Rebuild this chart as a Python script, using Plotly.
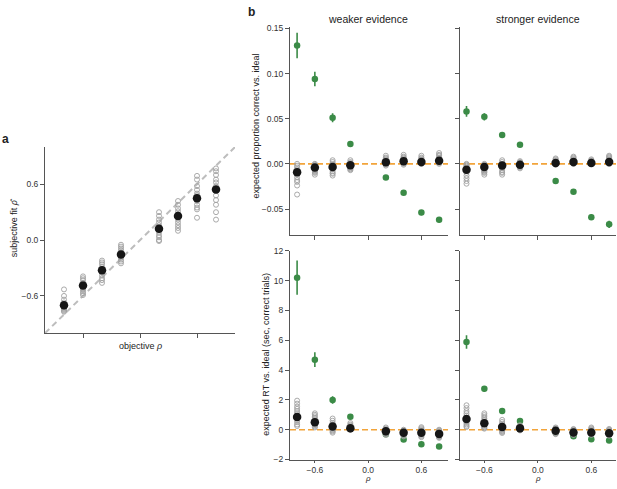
import plotly.graph_objects as go

# ---------------- data ----------------
rho = [-0.8, -0.6, -0.4, -0.2, 0.2, 0.4, 0.6, 0.8]

# panel a: subjective fit vs objective rho
a_mean = [-0.70, -0.487, -0.323, -0.155, 0.123, 0.26, 0.449, 0.544]
a_subj = [
    [-0.53, -0.60, -0.64, -0.67, -0.70, -0.72, -0.73, -0.74, -0.75, -0.76, -0.77, -0.71],
    [-0.39, -0.41, -0.43, -0.46, -0.48, -0.50, -0.52, -0.53, -0.55, -0.57, -0.59, -0.49],
    [-0.22, -0.24, -0.26, -0.29, -0.31, -0.33, -0.35, -0.38, -0.41, -0.43, -0.46, -0.34],
    [-0.05, -0.07, -0.09, -0.11, -0.13, -0.15, -0.17, -0.19, -0.21, -0.23, -0.25, -0.16],
    [0.30, 0.26, 0.22, 0.19, 0.16, 0.13, 0.11, 0.08, 0.05, 0.03, 0.00, -0.01],
    [0.42, 0.38, 0.34, 0.31, 0.28, 0.25, 0.22, 0.19, 0.16, 0.13, 0.10, 0.27],
    [0.69, 0.65, 0.58, 0.54, 0.50, 0.46, 0.42, 0.38, 0.35, 0.33, 0.24, 0.48],
    [0.77, 0.74, 0.70, 0.65, 0.62, 0.58, 0.54, 0.48, 0.43, 0.38, 0.30, 0.22],
]

# panel b, top-left: proportion correct, weaker evidence
pc_weak_mean = [-0.0094, -0.004, -0.0036, -0.0015, 0.0018, 0.003, 0.002, 0.0033]
pc_weak_green = [0.131, 0.094, 0.051, 0.022, -0.015, -0.032, -0.054, -0.062]
pc_weak_green_err = [0.014, 0.008, 0.005, 0.002, 0.002, 0.002, 0.003, 0.003]
pc_weak_subj = [
    [0.000, -0.002, -0.004, -0.006, -0.008, -0.010, -0.012, -0.015, -0.018, -0.020, -0.024, -0.034],
    [0.000, -0.001, -0.002, -0.003, -0.004, -0.005, -0.006, -0.007, -0.008, -0.009, -0.010, -0.012],
    [0.004, 0.002, 0.000, -0.001, -0.003, -0.004, -0.005, -0.006, -0.008, -0.010, -0.011, -0.013],
    [0.004, 0.002, 0.001, 0.000, -0.001, -0.002, -0.003, -0.004, -0.005, -0.006, -0.007, -0.002],
    [0.009, 0.007, 0.006, 0.005, 0.004, 0.003, 0.002, 0.001, 0.000, -0.001, -0.002, 0.002],
    [0.010, 0.008, 0.007, 0.006, 0.005, 0.004, 0.003, 0.002, 0.001, 0.000, -0.001, 0.003],
    [0.009, 0.007, 0.006, 0.005, 0.004, 0.003, 0.002, 0.001, 0.000, 0.000, 0.001, 0.002],
    [0.012, 0.010, 0.009, 0.007, 0.006, 0.005, 0.004, 0.003, 0.002, 0.001, 0.000, 0.003],
]

# panel b, top-right: proportion correct, stronger evidence
pc_strong_mean = [-0.0065, -0.0036, -0.0018, -0.001, 0.001, 0.002, 0.001, 0.002]
pc_strong_green = [0.058, 0.052, 0.032, 0.021, -0.019, -0.031, -0.059, -0.067]
pc_strong_green_err = [0.006, 0.004, 0.002, 0.002, 0.002, 0.002, 0.003, 0.004]
pc_strong_subj = [
    [0.000, -0.001, -0.002, -0.003, -0.004, -0.006, -0.008, -0.010, -0.013, -0.016, -0.019, -0.022],
    [0.000, -0.001, -0.002, -0.003, -0.004, -0.005, -0.006, -0.007, -0.008, -0.009, -0.010, -0.012],
    [0.004, 0.002, 0.000, -0.001, -0.002, -0.003, -0.004, -0.005, -0.007, -0.009, -0.010, -0.012],
    [0.003, 0.002, 0.001, 0.000, -0.001, -0.001, -0.002, -0.003, -0.003, -0.004, -0.005, -0.002],
    [0.006, 0.005, 0.004, 0.003, 0.002, 0.002, 0.001, 0.001, 0.000, 0.000, -0.001, 0.001],
    [0.008, 0.007, 0.006, 0.005, 0.004, 0.003, 0.002, 0.002, 0.001, 0.000, 0.000, 0.001],
    [0.005, 0.004, 0.003, 0.003, 0.002, 0.002, 0.001, 0.001, 0.000, 0.000, 0.001, 0.002],
    [0.009, 0.008, 0.007, 0.006, 0.005, 0.004, 0.003, 0.002, 0.001, 0.000, 0.000, 0.002],
]

# panel b, bottom-left: RT, weaker evidence
rt_weak_mean = [0.85, 0.50, 0.22, 0.09, -0.11, -0.20, -0.20, -0.28]
rt_weak_green = [10.2, 4.7, 2.0, 0.87, -0.30, -0.66, -0.98, -1.13]
rt_weak_green_err = [1.15, 0.5, 0.25, 0.1, 0.05, 0.05, 0.05, 0.08]
rt_weak_subj = [
    [1.95, 1.75, 1.55, 1.40, 1.25, 1.10, 0.95, 0.80, 0.65, 0.50, 0.35, 0.25],
    [1.10, 1.00, 0.90, 0.80, 0.70, 0.60, 0.50, 0.40, 0.35, 0.30, 0.22, 0.15],
    [0.75, 0.60, 0.45, 0.35, 0.25, 0.18, 0.10, 0.05, 0.00, -0.05, -0.12, -0.20],
    [0.45, 0.35, 0.28, 0.22, 0.16, 0.12, 0.08, 0.05, 0.03, 0.01, 0.00, 0.10],
    [0.15, 0.08, 0.02, -0.02, -0.06, -0.10, -0.14, -0.18, -0.22, -0.26, -0.30, -0.35],
    [0.00, -0.05, -0.08, -0.12, -0.15, -0.18, -0.22, -0.26, -0.30, -0.35, -0.40, -0.45],
    [0.17, 0.10, 0.03, -0.03, -0.08, -0.13, -0.18, -0.23, -0.30, -0.36, -0.43, -0.50],
    [0.00, -0.05, -0.10, -0.15, -0.20, -0.25, -0.30, -0.35, -0.40, -0.45, -0.50, -0.55],
]

# panel b, bottom-right: RT, stronger evidence
rt_strong_mean = [0.72, 0.44, 0.18, 0.09, -0.07, -0.18, -0.18, -0.24]
rt_strong_green = [5.88, 2.74, 1.25, 0.59, -0.18, -0.44, -0.64, -0.72]
rt_strong_green_err = [0.45, 0.2, 0.1, 0.05, 0.05, 0.05, 0.05, 0.05]
rt_strong_subj = [
    [1.64, 1.45, 1.25, 1.10, 0.95, 0.80, 0.68, 0.55, 0.45, 0.35, 0.25, 0.18],
    [1.10, 0.98, 0.86, 0.75, 0.65, 0.55, 0.45, 0.35, 0.25, 0.18, 0.12, 0.07],
    [0.66, 0.52, 0.40, 0.30, 0.22, 0.15, 0.08, 0.02, -0.04, -0.10, -0.16, -0.22],
    [0.30, 0.24, 0.18, 0.14, 0.10, 0.07, 0.04, 0.02, 0.00, -0.02, -0.05, 0.12],
    [0.15, 0.10, 0.05, 0.00, -0.04, -0.08, -0.12, -0.16, -0.20, -0.24, -0.27, -0.30],
    [0.05, 0.00, -0.04, -0.08, -0.12, -0.15, -0.18, -0.21, -0.25, -0.28, -0.32, -0.35],
    [0.15, 0.09, 0.03, -0.02, -0.06, -0.10, -0.14, -0.18, -0.22, -0.26, -0.30, -0.35],
    [0.05, 0.00, -0.05, -0.09, -0.13, -0.17, -0.21, -0.25, -0.29, -0.33, -0.37, -0.40],
]

pc_ticks = [-0.05, 0.0, 0.05, 0.10, 0.15]
pc_ticklabels = ["\u22120.05", "0.00", "0.05", "0.10", "0.15"]
rt_ticks = [-2, 0, 2, 4, 6, 8, 10, 12]
rt_ticklabels = ["\u22122", "0", "2", "4", "6", "8", "10", "12"]
rho_ticks = [-0.6, 0.0, 0.6]
rho_ticklabels = ["\u22120.6", "0.0", "0.6"]

# ---------------- styling ----------------
W, H = 617, 489
GREEN = "#3b8b47"
GREY = "#a0a0a0"
ORANGE = "#f2a43a"
AXC = "#555555"
FONT = "Liberation Sans, Arial, sans-serif"

def px_x(a, b):
    return [a / W, b / W]

def px_y(top, bottom):
    return [1 - bottom / H, 1 - top / H]

fig = go.Figure()

def add_subjects(subj, xa, ya):
    xs, ys = [], []
    for r, vals in zip(rho, subj):
        for v in vals:
            xs.append(r)
            ys.append(v)
    fig.add_trace(go.Scatter(
        x=xs, y=ys, mode="markers", xaxis=xa, yaxis=ya,
        marker=dict(size=5, color="rgba(0,0,0,0)", line=dict(color=GREY, width=0.9)),
        showlegend=False, hoverinfo="skip", cliponaxis=False))

def add_green(vals, err, xa, ya):
    fig.add_trace(go.Scatter(
        x=rho, y=vals, mode="markers", xaxis=xa, yaxis=ya,
        marker=dict(size=6.5, color=GREEN),
        error_y=dict(type="data", array=err, color=GREEN, thickness=1.6, width=0),
        showlegend=False, cliponaxis=False))

def add_mean(vals, xa, ya):
    fig.add_trace(go.Scatter(
        x=rho, y=vals, mode="markers", xaxis=xa, yaxis=ya,
        marker=dict(size=8.5, color="#161616"),
        showlegend=False, cliponaxis=False))

# panel a
add_subjects(a_subj, "x", "y")
add_mean(a_mean, "x", "y")

# panel b
panels = [
    ("x2", "y2", pc_weak_subj, pc_weak_green, pc_weak_green_err, pc_weak_mean),
    ("x3", "y3", pc_strong_subj, pc_strong_green, pc_strong_green_err, pc_strong_mean),
    ("x4", "y4", rt_weak_subj, rt_weak_green, rt_weak_green_err, rt_weak_mean),
    ("x5", "y5", rt_strong_subj, rt_strong_green, rt_strong_green_err, rt_strong_mean),
]
for xa, ya, subj, g, ge, m in panels:
    add_green(g, ge, xa, ya)
    add_subjects(subj, xa, ya)
    add_mean(m, xa, ya)

# reference lines
fig.add_shape(type="line", xref="x", yref="y", x0=-1, y0=-1, x1=1, y1=1,
              line=dict(color="#bdbdbd", width=2, dash="6px,4px"), layer="below")
for xa, ya in [("x2", "y2"), ("x3", "y3"), ("x4", "y4"), ("x5", "y5")]:
    fig.add_shape(type="line", xref=xa + " domain", yref=ya, x0=0, x1=1, y0=0, y1=0,
                  line=dict(color=ORANGE, width=1.6, dash="6px,3px"), layer="below")

axis_common = dict(showline=True, linecolor=AXC, linewidth=1, ticks="outside",
                   ticklen=4, tickcolor=AXC, tickwidth=1, showgrid=False, zeroline=False,
                   tickfont=dict(size=8.5, color="#333333", family=FONT), mirror=False)
xbottom_common = dict(axis_common, ticklen=2)

fig.update_layout(
    width=W, height=H, margin=dict(l=0, r=0, t=0, b=0),
    paper_bgcolor="white", plot_bgcolor="white",
    font=dict(family=FONT, size=9, color="#333333"),
    xaxis=dict(domain=px_x(45, 235), range=[-1, 1], tickvals=rho_ticks,
               showticklabels=False, anchor="y", **axis_common),
    yaxis=dict(domain=px_y(145, 335), range=[-1, 1], tickvals=rho_ticks,
               ticktext=rho_ticklabels, anchor="x", **axis_common),
    xaxis2=dict(domain=px_x(290, 448), range=[-0.88, 0.90], tickvals=rho_ticks,
                showticklabels=False, anchor="y2", **axis_common),
    yaxis2=dict(domain=px_y(22, 235), range=[-0.079, 0.152], tickvals=pc_ticks,
                ticktext=pc_ticklabels, anchor="x2", **axis_common),
    xaxis3=dict(domain=px_x(460, 616), range=[-0.873, 0.877], tickvals=rho_ticks,
                showticklabels=False, anchor="y3", **axis_common),
    yaxis3=dict(domain=px_y(22, 235), range=[-0.079, 0.152], tickvals=pc_ticks,
                showticklabels=False, anchor="x3", **axis_common),
    xaxis4=dict(domain=px_x(290, 448), range=[-0.88, 0.90], tickvals=rho_ticks,
                ticktext=rho_ticklabels, anchor="y4", **xbottom_common),
    yaxis4=dict(domain=px_y(251, 464), range=[-2, 12], tickvals=rt_ticks,
                ticktext=rt_ticklabels, anchor="x4", **axis_common),
    xaxis5=dict(domain=px_x(460, 616), range=[-0.873, 0.877], tickvals=rho_ticks,
                ticktext=rho_ticklabels, anchor="y5", **xbottom_common),
    yaxis5=dict(domain=px_y(251, 464), range=[-2, 12], tickvals=rt_ticks,
                showticklabels=False, anchor="x5", **axis_common),
)

def ann(text, x, y, size=9, angle=0, bold=False, xanchor="center", yanchor="middle"):
    fig.add_annotation(text=("<b>%s</b>" % text) if bold else text,
                       x=x / W, y=1 - y / H, xref="paper", yref="paper",
                       showarrow=False, textangle=angle, xanchor=xanchor, yanchor=yanchor,
                       borderpad=0,
                       font=dict(size=size, color="#222222", family=FONT))

ann("a", 1, 137, size=12, bold=True, xanchor="left")
ann("b", 247, 7, size=12, bold=True, xanchor="left")
ann("weaker evidence", 368, 14, size=10.5)
ann("stronger evidence", 538, 14, size=10.5)
ann("subjective fit <i>\u03c1\u0302</i>", 14, 228, angle=-90)
ann("objective <i>\u03c1</i>", 140, 348)
ann("expected proportion correct vs. ideal", 256, 124, angle=-90)
ann("expected RT vs. ideal (sec, correct trials)", 266, 357, angle=-90)
ann("<i>\u03c1</i>", 368, 489, size=8, yanchor="bottom")
ann("<i>\u03c1</i>", 538, 489, size=8, yanchor="bottom")

fig.write_html("out.html", config={"displayModeBar": False},
               post_script="document.body.style.margin='0';document.body.style.overflow='hidden';")
